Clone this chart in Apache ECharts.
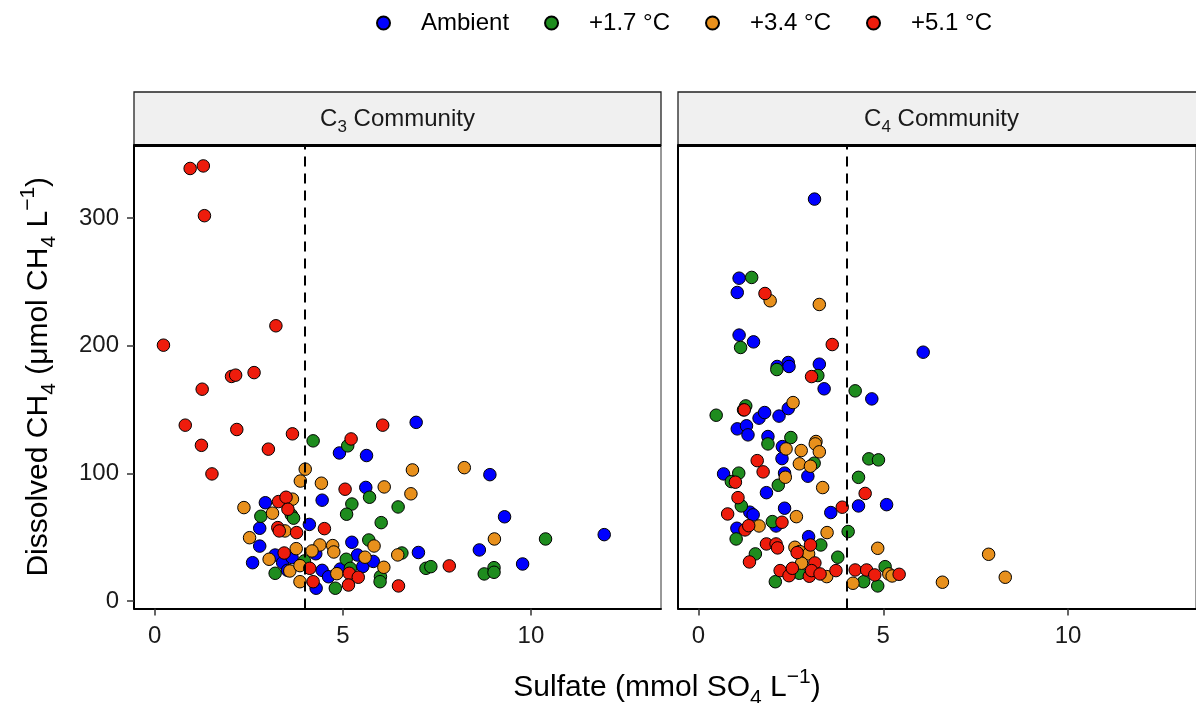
<!DOCTYPE html>
<html><head><meta charset="utf-8">
<script src="https://cdn.jsdelivr.net/npm/echarts@6/dist/echarts.min.js"></script>
<style>html,body{margin:0;padding:0;background:#fff}#c{width:1196px;height:703px}</style>
</head><body><div id="c"></div>
<script>
const treatments = ['Ambient', '+1.7 °C', '+3.4 °C', '+5.1 °C'];
const colors = ['#0000FF', '#1E8C1E', '#E8901C', '#EE1C0C'];
const xTicks = [0, 5, 10];
const yTicks = [0, 100, 200, 300];
const sulfateThreshold = 4;

// C3 community: [sulfate, CH4]
const c3Ambient = [[4.91,116],[5.63,114],[6.95,140],[8.91,99],[9.30,66],[11.95,52],[7.01,38],[8.63,40],[9.78,29],[5.61,89],[4.45,79],[2.94,77],[4.11,60],[2.79,57],[2.79,43],[5.24,46],[2.60,30],[4.28,37],[3.20,36],[3.40,30],[3.53,24],[3.65,34],[4.45,24],[4.29,10],[4.62,19],[4.93,25],[5.39,36],[5.53,27],[5.81,31]];
const c3Warm17 = [[4.21,125.5],[5.13,121.6],[6.47,73.7],[10.39,48.6],[6.57,37.6],[7.21,25.6],[7.34,26.9],[8.76,21.2],[9.02,26.1],[9.02,22.5],[5.71,81.3],[5.24,76],[5.10,68],[6.02,61.4],[2.82,66.4],[3.63,67.5],[3.69,64.9],[5.69,47.8],[3.20,21.7],[3.98,31.4],[4.80,10],[5.09,32.7],[5.20,25.6],[6.00,19.1],[5.99,15.1]];
const c3Warm34 = [[4.00,103.3],[6.85,102.7],[8.23,104.5],[6.81,84],[9.03,48.6],[3.87,94],[4.43,92.3],[6.10,89.4],[2.37,73.2],[3.66,79.8],[3.13,68.8],[3.46,54.9],[2.52,49.6],[5.83,43.1],[6.46,36.1],[3.04,32.7],[3.76,41],[4.39,43.9],[4.73,43.4],[4.76,38.4],[4.18,39.2],[3.59,23.5],[3.86,27.7],[3.86,15.1],[4.84,21.4],[5.59,34.3],[6.09,26.4]];
const c3Warm51 = [[0.94,339],[1.29,341],[1.32,302],[3.22,215.7],[0.23,200.5],[2.04,176],[2.15,177],[2.64,179],[1.26,166],[0.81,137.8],[2.18,134.4],[3.66,131],[1.24,122],[3.02,119],[5.22,127],[6.06,137.8],[1.52,99.6],[7.83,27.5],[6.48,11.8],[5.06,87.6],[3.29,77.9],[3.49,81.3],[3.54,71.9],[3.27,57.5],[3.31,54.9],[3.77,53.6],[4.51,56.7],[3.44,37.6],[4.12,25.6],[4.21,15.1],[5.17,21.7],[5.15,12.5],[5.41,18.6]];

// C4 community
const c4Ambient = [[3.14,315],[1.10,253],[1.05,241.8],[1.10,208.4],[1.49,203.1],[6.08,195],[2.13,183.8],[2.43,186.9],[2.45,183.8],[3.27,185.6],[3.40,166.3],[4.69,158.4],[1.64,143.3],[1.79,147.7],[2.18,144.9],[2.43,150.8],[1.05,134.9],[1.30,137.3],[1.34,130.2],[1.88,128.9],[2.27,121],[2.26,111.6],[0.68,99.6],[2.33,100.2],[2.96,97.8],[1.84,84.9],[1.39,69.6],[1.48,67.5],[2.33,72.7],[3.58,69.3],[4.33,74.5],[1.04,57],[2.10,58.8],[2.98,50.4],[5.09,75.5]];
const c4Warm17 = [[1.44,253.6],[1.14,198.7],[2.12,181.4],[3.23,176.7],[4.24,164.7],[1.28,152.9],[1.22,149.8],[0.48,145.6],[2.50,128.1],[1.88,123.1],[3.13,108],[1.09,100.2],[0.89,93.6],[2.16,90.7],[1.16,74.5],[1.02,48.6],[2.00,62.2],[4.05,54.4],[1.54,36.9],[3.31,43.9],[3.77,34.3],[2.08,15.1],[2.73,21.7],[4.47,15.1],[5.05,26.9],[4.85,11.8],[4.61,111.4],[4.87,110.6],[4.33,96.9]];
const c4Warm34 = [[1.94,235.3],[3.27,232.4],[2.56,155.5],[3.18,125],[2.37,119.2],[2.78,117.9],[3.16,123.1],[3.27,116.9],[2.73,107.5],[3.03,105.6],[2.35,97],[3.36,88.9],[2.65,66.1],[1.64,58.8],[3.48,53.6],[2.61,42.1],[2.74,38.7],[2.98,36.9],[2.79,29.6],[3.47,19.1],[4.18,13.9],[4.85,41.3],[7.85,36.6],[5.15,21.2],[5.24,19.6],[6.60,14.7],[8.30,18.6]];
const c4Warm51 = [[1.80,241],[3.62,201],[3.06,175.9],[1.24,149.8],[1.59,110],[1.75,101.2],[1.00,93.1],[1.07,81],[0.79,68.2],[3.89,73.5],[1.26,55.7],[1.36,59],[2.26,61.7],[1.84,44.7],[2.10,44.7],[2.14,41.6],[1.38,30.6],[2.67,37.9],[3.03,43.9],[3.15,29.8],[2.21,23.8],[2.45,19.8],[2.54,25.6],[3.00,19.4],[3.06,23.8],[3.29,21.2],[3.72,23.8],[4.24,24.3],[4.55,24.3],[4.77,20.4],[5.43,20.9],[4.51,84.3]];

const panels = [
  { sub: '3', data: [c3Ambient, c3Warm17, c3Warm34, c3Warm51] },
  { sub: '4', data: [c4Ambient, c4Warm17, c4Warm34, c4Warm51] }
];

const FONT = '"Liberation Sans", Arial, Helvetica, sans-serif';
const chart = echarts.init(document.getElementById('c'), null, { renderer: 'canvas' });

const gridDefs = [
  { left: 134, top: 145, width: 527, height: 463.5 },
  { left: 678, top: 145, width: 527, height: 463.5 }
];

const titleRich = {
  n: { fontSize: 30, fontFamily: FONT, color: '#000', fill: '#000', lineHeight: 42, verticalAlign: 'middle' },
  s: { fontSize: 21, fontFamily: FONT, color: '#000', fill: '#000', verticalAlign: 'bottom' },
  p: { fontSize: 21, fontFamily: FONT, color: '#000', fill: '#000', verticalAlign: 'top' }
};

const xAxes = gridDefs.map((g, i) => ({
  type: 'value', gridIndex: i, min: -0.553, max: 13.46,
  splitLine: { show: false },
  axisLine: { show: true, onZero: false, lineStyle: { color: '#000', width: 2 } },
  axisTick: { show: true, length: 7, customValues: xTicks, lineStyle: { color: '#333', width: 1.5 } },
  axisLabel: { show: true, customValues: xTicks, fontSize: 24, color: '#1a1a1a', fontFamily: FONT, margin: 16 }
}));

const yAxes = gridDefs.map((g, i) => ({
  type: 'value', gridIndex: i, min: -5.9, max: 357.4,
  splitLine: { show: false },
  axisLine: { show: true, onZero: false, lineStyle: { color: '#000', width: 2 } },
  axisTick: { show: i === 0, length: 7, customValues: yTicks, lineStyle: { color: '#333', width: 1.5 } },
  axisLabel: { show: i === 0, customValues: yTicks, fontSize: 24, color: '#1a1a1a', fontFamily: FONT, margin: 15 },
  name: i === 0 ? '{n|Dissolved CH}{s|4}{n| (μmol CH}{s|4}{n| L}{p|−1}{n|)}' : '',
  nameLocation: 'middle', nameRotate: 90, nameGap: 74,
  nameTextStyle: { rich: titleRich }
}));

const series = [];
panels.forEach((p, gi) => {
  p.data.forEach((d, ti) => {
    const s = {
      type: 'scatter', name: treatments[ti], xAxisIndex: gi, yAxisIndex: gi,
      data: d, symbol: 'circle', symbolSize: 12.5,
      itemStyle: { color: colors[ti], borderColor: '#000', borderWidth: 1, opacity: 1 },
      emphasis: { disabled: true }
    };
    if (ti === 0) {
      s.markLine = {
        silent: true, symbol: ['none', 'none'], label: { show: false }, animation: false,
        lineStyle: { color: '#000', type: [10, 7], width: 2 },
        data: [{ xAxis: sulfateThreshold }]
      };
    }
    series.push(s);
  });
});

const graphics = [];
gridDefs.forEach((g, i) => {
  graphics.push({
    type: 'rect', shape: { x: g.left, y: 92, width: g.width, height: 53 },
    style: { fill: '#F0F0F0', stroke: '#222', lineWidth: 1.3 }, silent: true
  });
  graphics.push({
    type: 'line', shape: { x1: g.left, y1: 145.5, x2: g.left + g.width, y2: 145.5 },
    style: { stroke: '#000', lineWidth: 3 }, silent: true
  });
  graphics.push({
    type: 'text', x: g.left + g.width / 2, y: 119,
    style: {
      text: '{n|C}{s|' + panels[i].sub + '}{n| Community}',
      align: 'center', verticalAlign: 'middle',
      rich: {
        n: { fontSize: 24, fontFamily: FONT, fill: '#1a1a1a', lineHeight: 33, verticalAlign: 'middle' },
        s: { fontSize: 17, fontFamily: FONT, fill: '#1a1a1a', verticalAlign: 'bottom' }
      }
    }, silent: true
  });
});
graphics.push({
  type: 'text', x: 667, y: 688,
  style: {
    text: '{n|Sulfate (mmol SO}{s|4}{n| L}{p|−1}{n|)}',
    align: 'center', verticalAlign: 'middle',
    rich: titleRich
  }, silent: true
});

chart.setOption({
  animation: false,
  backgroundColor: '#fff',
  grid: gridDefs.map(g => Object.assign({ show: true, borderColor: '#333', borderWidth: 1, backgroundColor: 'transparent' }, g)),
  xAxis: xAxes,
  yAxis: yAxes,
  legend: {
    data: treatments, top: 6, left: 371, icon: 'circle',
    itemWidth: 13, itemHeight: 13, itemGap: 35,
    selectedMode: false,
    formatter: name => '{s|}{t|' + name + '}',
    textStyle: {
      rich: {
        s: { width: 26 },
        t: { fontSize: 24, fontFamily: FONT, color: '#000' }
      }
    }
  },
  series: series,
  graphic: graphics
});
</script></body></html>
